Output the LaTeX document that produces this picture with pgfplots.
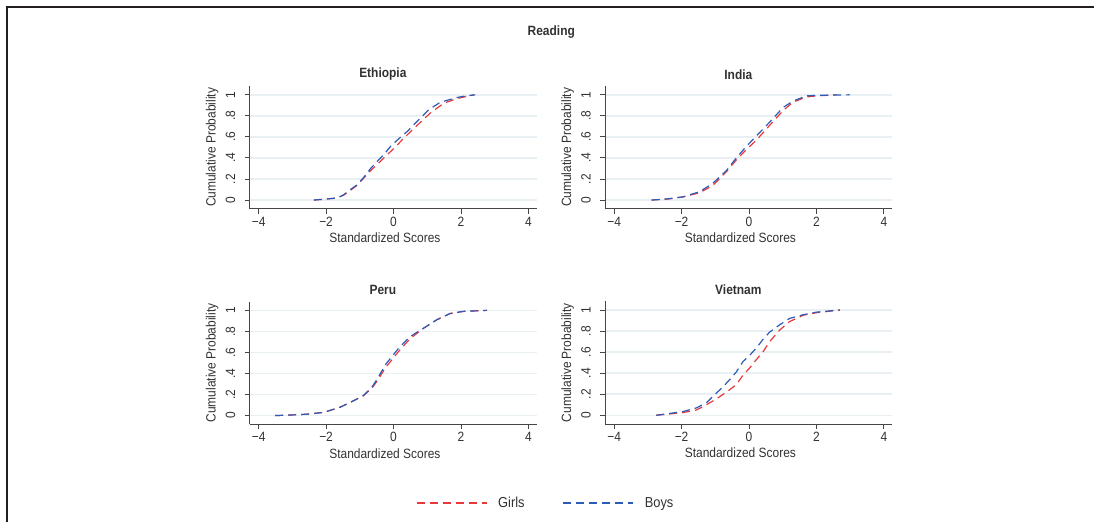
\documentclass[border=0pt]{standalone}
\usepackage{fontspec}
\setmainfont{Liberation Sans}[FakeStretch=0.89]
\usepackage{pgfplots}
\pgfplotsset{compat=1.18}

\definecolor{textgray}{RGB}{50,50,50}
\definecolor{axisgray}{RGB}{70,70,70}
\definecolor{gridcol}{RGB}{232,240,243}
\definecolor{girlsred}{RGB}{232,56,60}
\definecolor{boysblue}{RGB}{44,92,184}
\definecolor{framecol}{RGB}{35,31,32}

\newcommand{\axfont}{\fontsize{13.5}{16}\selectfont}

\pgfplotsset{
  cdfpanel/.style={
    scale only axis, width=287.4bp, height=122.7bp,
    xmin=-4.27, xmax=4.25, ymin=-0.083, ymax=1.083,
    axis x line*=bottom, axis y line*=left,
    axis line style={draw=axisgray, line width=1bp, -},
    xtick={-4,-2,0,2,4}, xticklabels={−4,−2,0,2,4},
    ytick={0,0.2,0.4,0.6,0.8,1}, yticklabels={0,.2,.4,.6,.8,1},
    tick align=outside, major tick length=5bp,
    tick style={draw=axisgray, line width=1bp},
    ymajorgrids, grid style={draw=gridcol, line width=1.5bp},
    tick label style={font=\axfont, text=textgray, inner sep=0pt},
    xticklabel style={anchor=center},
    xticklabel shift=8bp,
    yticklabel style={rotate=90, anchor=center},
    yticklabel shift=14bp,
    xlabel={Standardized Scores}, ylabel={Cumulative Probability},
    label style={font=\axfont, text=textgray, inner sep=0pt},
    xlabel style={at={(axis description cs:0.471,-0.236)}, anchor=center},
    ylabel style={at={(axis description cs:-0.130,0.5)}, anchor=center, rotate=0},
    title style={at={(axis description cs:0.464,1.047)}, anchor=center,
                 font=\axfont\bfseries, text=textgray, inner sep=0pt},
    clip=false,
    legend image code/.code={\draw[#1] (0bp,0bp) -- (70bp,0bp);},
  },
  girls/.style={girlsred, line width=1.2bp, dash pattern=on 8bp off 5bp},
  boys/.style={boysblue, line width=1.2bp, dash pattern=on 8bp off 5bp},
}

\begin{document}
\begin{tikzpicture}
\useasboundingbox (0bp,0bp) rectangle (1094bp,522bp);
\draw[framecol, line width=2bp] (7bp,0bp) -- (7bp,515bp) -- (1094bp,515bp);
\node[font=\axfont\bfseries, text=textgray, inner sep=0pt] at (551.3bp,489.5bp) {Reading};

% Ethiopia
\begin{axis}[cdfpanel, at={(249.5bp,313.2bp)}, anchor=south west, title={Ethiopia}]
\addplot[girls] coordinates {(-2.36,0) (-2.0,0.01) (-1.67,0.02) (-1.47,0.05) (-1.37,0.07)
 (-1.08,0.14) (-0.88,0.21) (-0.68,0.28) (-0.48,0.34) (-0.19,0.43) (0.01,0.49) (0.31,0.59)
 (0.70,0.71) (1.10,0.83) (1.49,0.92) (1.89,0.965) (2.1,0.98) (2.38,1.0)};
\addplot[boys] coordinates {(-2.36,0) (-2.0,0.01) (-1.67,0.02) (-1.47,0.05) (-1.37,0.08)
 (-1.1,0.14) (-0.9,0.21) (-0.68,0.30) (-0.48,0.37) (-0.29,0.43) (-0.09,0.51) (0.11,0.57)
 (0.40,0.65) (0.80,0.78) (1.05,0.86) (1.39,0.93) (1.89,0.975) (2.15,0.99) (2.42,1.0)};
\end{axis}

% India
\begin{axis}[cdfpanel, at={(605bp,313.2bp)}, anchor=south west, title={India}]
\addplot[girls] coordinates {(-2.89,0) (-2.4,0.01) (-1.96,0.03) (-1.46,0.07) (-1.07,0.14)
 (-0.67,0.27) (-0.38,0.38) (-0.08,0.48) (0.22,0.57) (0.61,0.71) (1.01,0.85) (1.30,0.93)
 (1.70,0.98) (2.0,0.99) (2.59,1.0)};
\addplot[boys] coordinates {(-2.89,0) (-2.4,0.012) (-1.96,0.03) (-1.46,0.08) (-1.07,0.16)
 (-0.67,0.28) (-0.38,0.40) (-0.08,0.51) (0.22,0.61) (0.61,0.74) (1.01,0.88) (1.30,0.94)
 (1.70,0.99) (2.0,0.995) (2.98,1.0)};
\end{axis}

% Peru
\begin{axis}[cdfpanel, at={(249.5bp,97.7bp)}, anchor=south west, title={Peru}]
\addplot[girls] coordinates {(-3.51,0) (-3.06,0.005) (-2.57,0.013) (-2.07,0.03) (-1.58,0.08)
 (-1.19,0.14) (-0.89,0.19) (-0.64,0.26) (-0.44,0.35) (-0.25,0.45) (-0.05,0.53) (0.15,0.61)
 (0.49,0.73) (0.89,0.83) (1.28,0.91) (1.68,0.97) (2.07,0.99) (2.77,1.0)};
\addplot[boys] coordinates {(-3.51,0) (-3.06,0.005) (-2.57,0.013) (-2.07,0.03) (-1.58,0.08)
 (-1.19,0.14) (-0.89,0.19) (-0.64,0.27) (-0.44,0.37) (-0.25,0.48) (-0.05,0.56) (0.15,0.64)
 (0.49,0.75) (0.89,0.83) (1.28,0.91) (1.68,0.97) (2.07,0.99) (2.77,1.0)};
\end{axis}

% Vietnam
\begin{axis}[cdfpanel, at={(605bp,98bp)}, anchor=south west, title={Vietnam},
  legend columns=2, legend cell align=left,
  legend style={at={(-0.6576,-0.6438)}, anchor=west, draw=none, fill=none,
    inner sep=0pt, outer sep=0pt,
    nodes={inner sep=0pt, font=\fontsize{14.5}{17}\selectfont, text=textgray},
    /tikz/every odd column/.append style={column sep=11bp},
    /tikz/every even column/.append style={column sep=38bp}}]
\addplot[girls] coordinates {(-2.75,0) (-1.96,0.025) (-1.56,0.05) (-1.26,0.10) (-0.97,0.155)
 (-0.67,0.22) (-0.38,0.29) (-0.18,0.38) (0.02,0.45) (0.22,0.53) (0.41,0.60) (0.61,0.70)
 (0.91,0.81) (1.20,0.89) (1.60,0.95) (2.0,0.975) (2.69,1.0)};
\addlegendentry{Girls}
\addplot[boys] coordinates {(-2.75,0) (-1.96,0.035) (-1.56,0.07) (-1.26,0.12) (-1.07,0.18)
 (-0.77,0.27) (-0.57,0.34) (-0.38,0.41) (-0.18,0.51) (0.02,0.57) (0.22,0.64) (0.41,0.72)
 (0.61,0.79) (0.91,0.86) (1.20,0.92) (1.60,0.955) (2.0,0.98) (2.69,1.0)};
\addlegendentry{Boys}
\end{axis}
\end{tikzpicture}
\end{document}
